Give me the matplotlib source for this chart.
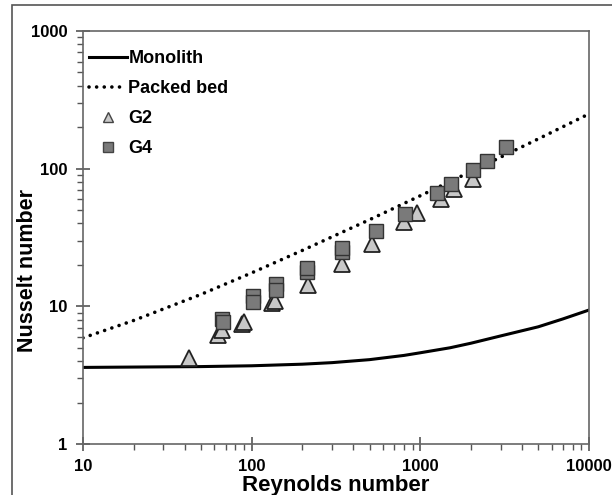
import matplotlib
matplotlib.use("Agg")
import matplotlib.pyplot as plt
from matplotlib.lines import Line2D
from matplotlib.patches import Rectangle
from matplotlib.ticker import LogLocator, NullFormatter, FixedLocator, FixedFormatter

plt.rcParams["font.family"] = ["Liberation Sans", "DejaVu Sans"]
plt.rcParams["font.weight"] = "bold"

# Monolith correlation curve
re_monolith = [10, 50, 100, 200, 300, 500, 800, 1000, 1500, 2000, 3000, 5000, 7000, 10000]
nu_monolith = [3.6, 3.65, 3.7, 3.8, 3.9, 4.1, 4.4, 4.6, 5.0, 5.4, 6.1, 7.1, 8.1, 9.4]

# Packed bed correlation curve
re_packed = [10, 20, 50, 100, 200, 500, 1000, 2000, 5000, 10000]
nu_packed = [5.9, 7.9, 12.2, 17.5, 25.5, 42.6, 63.6, 95.4, 164.5, 250]

# G2 measurements
re_g2 = [42.5, 63, 66.7, 87.6, 90, 132, 138, 216, 343, 516, 800, 955, 1325, 1581, 2050]
nu_g2 = [4.2, 6.2, 6.7, 7.5, 7.7, 10.6, 11.0, 14.3, 20.3, 28.3, 40.9, 47.6, 60, 71, 84]

# G4 measurements
re_g4 = [66.7, 68, 102, 102, 139, 139, 213, 213, 343, 343, 546, 811, 1254, 1518, 2050, 2481, 3217]
nu_g4 = [8.1, 7.7, 11.9, 10.7, 14.5, 13.1, 17.7, 19.0, 24.8, 26.5, 35.2, 46.8, 66.5, 77.3, 97.7, 113, 143]

x_ticks = [10, 100, 1000, 10000]
x_labels = ["10", "100", "1000", "10000"]
y_ticks = [1, 10, 100, 1000]
y_labels = ["1", "10", "100", "1000"]

DOTS = (0, (0.01, 2.1))

fig = plt.figure(figsize=(6.12, 4.95), dpi=100)
ax = fig.add_axes([83 / 612, 1 - 444 / 495, (589 - 83) / 612, (444 - 31) / 495])

# outer frame around the figure
fig.patches.append(Rectangle((12 / 612, -0.05), 1.0, 1 - 5 / 495 + 0.05,
                             transform=fig.transFigure, fill=False,
                             edgecolor="#555555", linewidth=1.2, zorder=0))

ax.plot(re_monolith, nu_monolith, color="black", linewidth=2.2, zorder=2)
ax.plot(re_packed, nu_packed, color="black", linewidth=2.6,
        linestyle=DOTS, dash_capstyle="round", zorder=2)
ax.plot(re_g2, nu_g2, linestyle="none", marker="^", markersize=11.5,
        markerfacecolor="#c8c8c8", markeredgecolor="#222222",
        markeredgewidth=1.3, zorder=3)
ax.plot(re_g4, nu_g4, linestyle="none", marker="s", markersize=9.5,
        markerfacecolor="#7a7a7a", markeredgecolor="#333333",
        markeredgewidth=1.0, zorder=4)

ax.set_xscale("log")
ax.set_yscale("log")
ax.set_xlim(10, 10000)
ax.set_ylim(1, 1000)

ax.xaxis.set_major_locator(FixedLocator(x_ticks))
ax.xaxis.set_major_formatter(FixedFormatter(x_labels))
ax.yaxis.set_major_locator(FixedLocator(y_ticks))
ax.yaxis.set_major_formatter(FixedFormatter(y_labels))
ax.xaxis.set_minor_locator(LogLocator(base=10, subs=range(2, 10)))
ax.yaxis.set_minor_locator(LogLocator(base=10, subs=range(2, 10)))
ax.xaxis.set_minor_formatter(NullFormatter())
ax.yaxis.set_minor_formatter(NullFormatter())

for s in ax.spines.values():
    s.set_color("#666666")
    s.set_linewidth(1.2)

ax.tick_params(which="major", direction="inout", length=10, width=1.2,
               color="#555555", labelsize=12, pad=6)
ax.tick_params(axis="x", which="major", pad=6)
ax.tick_params(which="minor", direction="out", length=4, width=1.0,
               color="#555555")
for lab in ax.get_xticklabels() + ax.get_yticklabels():
    lab.set_fontweight("bold")

ax.set_xlabel("Reynolds number", fontsize=16, fontweight="bold")
ax.set_ylabel("Nusselt number", fontsize=15.5, fontweight="bold")
ax.xaxis.set_label_coords(0.5, -0.074)
ax.yaxis.set_label_coords(-0.089, 0.42)

handles = [
    Line2D([], [], color="black", linewidth=2.2),
    Line2D([], [], color="black", linewidth=2.6, linestyle=DOTS,
           dash_capstyle="round"),
    Line2D([], [], linestyle="none", marker="^", markersize=7,
           markerfacecolor="#c8c8c8", markeredgecolor="#444444"),
    Line2D([], [], linestyle="none", marker="s", markersize=6.5,
           markerfacecolor="#7a7a7a", markeredgecolor="#444444"),
]
leg = ax.legend(handles, ["Monolith", "Packed bed", "G2", "G4"],
                loc="upper left", frameon=False, prop={"size": 13, "weight": "bold"},
                handlelength=2.1, handletextpad=0.1, labelspacing=0.72,
                borderaxespad=0.2, bbox_to_anchor=(-0.01, 0.98))

fig.savefig("out.png", dpi=100)
